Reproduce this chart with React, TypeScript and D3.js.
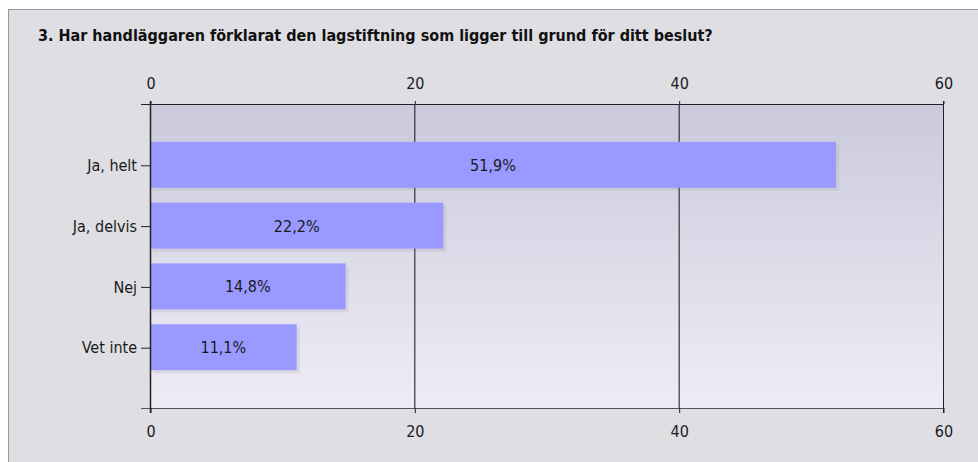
import { useEffect, useRef } from 'react';
import * as d3 from 'd3';

const title = '3. Har handläggaren förklarat den lagstiftning som ligger till grund för ditt beslut?';
const categories = ['Ja, helt', 'Ja, delvis', 'Nej', 'Vet inte'];
const values = [51.9, 22.2, 14.8, 11.1];
const valueLabels = ['51,9%', '22,2%', '14,8%', '11,1%'];
const xTicks = [0, 20, 40, 60];

const FONT = '"DejaVu Sans Condensed", "DejaVu Sans", sans-serif';

export default function App() {
  const svgRef = useRef<SVGSVGElement>(null);

  useEffect(() => {
    if (!svgRef.current) return;
    const width = 978;
    const height = 462;
    const plot = { left: 150, right: 943, top: 104, bottom: 408 };

    const svg = d3.select(svgRef.current);
    svg.selectAll('*').remove();
    svg.attr('width', width).attr('height', height);

    // Panel
    svg.append('rect').attr('x', 0).attr('y', 0).attr('width', width).attr('height', height).attr('fill', '#ffffff');
    svg.append('rect')
      .attr('x', 8.5).attr('y', 9.5)
      .attr('width', width).attr('height', height)
      .attr('fill', '#dfdee3')
      .attr('stroke', '#9a9a9a');

    svg.append('text')
      .attr('x', 38).attr('y', 41)
      .attr('font-family', FONT)
      .attr('font-weight', 'bold')
      .attr('font-size', 16)
      .attr('fill', '#111')
      .text(title);

    const x = d3.scaleLinear().domain([0, 60]).range([plot.left, plot.right]);
    const y = d3.scalePoint<string>().domain(categories).range([plot.top, plot.bottom]).padding(1);
    const barH = 46;

    // Plot background gradient
    const defs = svg.append('defs');
    const grad = defs.append('linearGradient')
      .attr('id', 'plot-bg')
      .attr('x1', '0').attr('y1', '0')
      .attr('x2', '0').attr('y2', '1');
    grad.append('stop').attr('offset', '0%').attr('stop-color', '#cbcadb');
    grad.append('stop').attr('offset', '100%').attr('stop-color', '#edecf6');

    svg.append('rect')
      .attr('x', plot.left).attr('y', plot.top)
      .attr('width', plot.right - plot.left)
      .attr('height', plot.bottom - plot.top)
      .attr('fill', 'url(#plot-bg)');

    // Grid lines
    svg.append('g')
      .selectAll('line')
      .data(xTicks.slice(1, -1))
      .enter()
      .append('line')
      .attr('x1', d => x(d) + 0.5).attr('x2', d => x(d) + 0.5)
      .attr('y1', plot.top).attr('y2', plot.bottom)
      .attr('stroke', '#111')
      .attr('stroke-width', 1);

    // Bar shadows
    svg.append('g')
      .selectAll('rect')
      .data(values)
      .enter()
      .append('rect')
      .attr('x', plot.left + 3)
      .attr('y', (d, i) => (y(categories[i]) as number) - barH / 2 + 3)
      .attr('width', d => x(d) - plot.left)
      .attr('height', barH)
      .attr('fill', '#777')
      .attr('opacity', 0.12);

    // Bars
    svg.append('g')
      .selectAll('rect')
      .data(values)
      .enter()
      .append('rect')
      .attr('x', plot.left)
      .attr('y', (d, i) => (y(categories[i]) as number) - barH / 2)
      .attr('width', d => x(d) - plot.left)
      .attr('height', barH)
      .attr('fill', '#9999ff');

    // Value labels
    svg.append('g')
      .selectAll('text')
      .data(values)
      .enter()
      .append('text')
      .attr('x', d => (x(d) + plot.left) / 2)
      .attr('y', (d, i) => (y(categories[i]) as number) + 6)
      .attr('text-anchor', 'middle')
      .attr('font-family', FONT)
      .attr('font-size', 16)
      .attr('fill', '#1a1a1a')
      .text((d, i) => valueLabels[i]);

    // Frame
    const frame = svg.append('g').attr('stroke', '#222').attr('stroke-width', 1).attr('fill', 'none');
    frame.append('line').attr('x1', plot.left - 9).attr('x2', plot.right).attr('y1', plot.top + 0.5).attr('y2', plot.top + 0.5);
    frame.append('line').attr('x1', plot.left - 9).attr('x2', plot.right).attr('y1', plot.bottom + 0.5).attr('y2', plot.bottom + 0.5).attr('stroke', '#555');
    frame.append('line').attr('x1', plot.left + 0.5).attr('x2', plot.left + 0.5).attr('y1', plot.top - 3).attr('y2', plot.bottom + 5).attr('stroke-width', 1.5);
    frame.append('line').attr('x1', plot.right + 0.5).attr('x2', plot.right + 0.5).attr('y1', plot.top - 3).attr('y2', plot.bottom + 5);

    // Top axis
    svg.append('g')
      .attr('transform', `translate(0.5,${plot.top})`)
      .call(d3.axisTop(x).tickValues(xTicks).tickSize(3).tickPadding(12))
      .call(g => g.select('.domain').remove())
      .call(g => g.selectAll('.tick line').attr('stroke', '#222'))
      .call(g => g.selectAll('.tick text').attr('fill', '#1a1a1a').attr('font-size', 16).attr('font-family', FONT));

    // Bottom axis
    svg.append('g')
      .attr('transform', `translate(0.5,${plot.bottom})`)
      .call(d3.axisBottom(x).tickValues(xTicks).tickSize(5).tickPadding(13))
      .call(g => g.select('.domain').remove())
      .call(g => g.selectAll('.tick line').attr('stroke', '#222'))
      .call(g => g.selectAll('.tick text').attr('fill', '#1a1a1a').attr('font-size', 16).attr('font-family', FONT));

    // Left axis
    svg.append('g')
      .attr('transform', `translate(${plot.left},0.5)`)
      .call(d3.axisLeft(y).tickSize(9).tickPadding(4))
      .call(g => g.select('.domain').remove())
      .call(g => g.selectAll('.tick line').attr('stroke', '#222'))
      .call(g => g.selectAll('.tick text').attr('fill', '#1a1a1a').attr('font-size', 16).attr('font-family', FONT));
  }, []);

  return (
    <div style={{ position: 'absolute', left: 0, top: 0 }}>
      <svg ref={svgRef} style={{ display: 'block' }} />
    </div>
  );
}
